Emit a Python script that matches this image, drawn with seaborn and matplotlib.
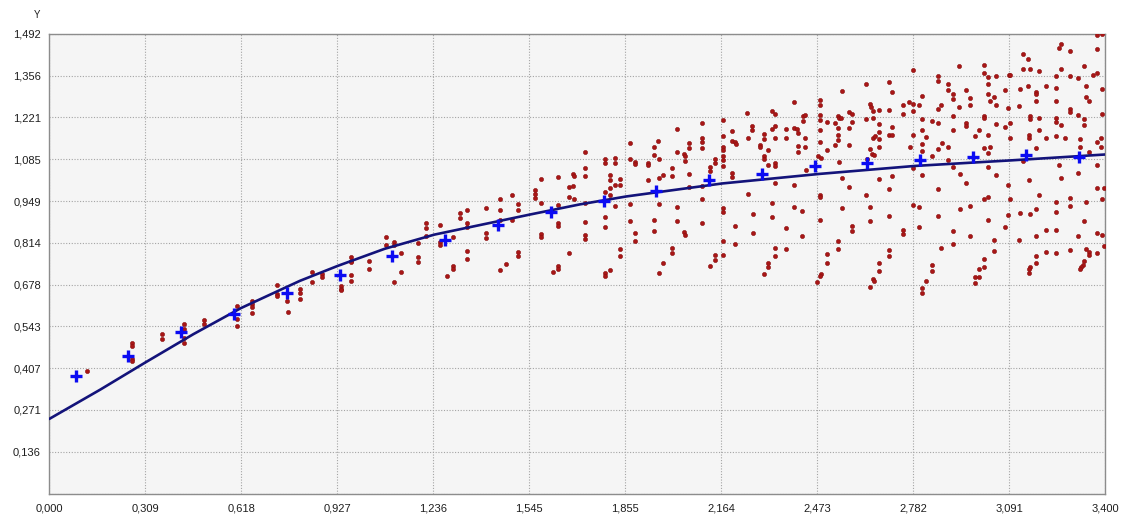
import matplotlib
matplotlib.use("Agg")
import matplotlib.pyplot as plt
import seaborn as sns
import pandas as pd
from matplotlib.ticker import FixedLocator, FixedFormatter

# ---------------- data ----------------
x_ticks = [0.0, 0.309, 0.618, 0.927, 1.236, 1.545, 1.855, 2.164, 2.473, 2.782, 3.091, 3.400]
x_tick_labels = ["0,000", "0,309", "0,618", "0,927", "1,236", "1,545", "1,855",
                 "2,164", "2,473", "2,782", "3,091", "3,400"]
y_ticks = [0.0, 0.136, 0.271, 0.407, 0.543, 0.678, 0.814, 0.949, 1.085, 1.221, 1.356, 1.492]
y_tick_labels = ["", "0,136", "0,271", "0,407", "0,543", "0,678", "0,814", "0,949",
                 "1,085", "1,221", "1,356", "1,492"]

# bin means (blue crosses)
mean_x = [0.085, 0.255, 0.425, 0.595, 0.765, 0.935, 1.105, 1.275, 1.445, 1.615,
          1.785, 1.955, 2.125, 2.295, 2.465, 2.635, 2.805, 2.975, 3.145, 3.315]
mean_y = [0.381, 0.445, 0.524, 0.581, 0.650, 0.710, 0.772, 0.824, 0.870, 0.915,
          0.948, 0.980, 1.016, 1.038, 1.063, 1.072, 1.082, 1.093, 1.100, 1.093]

# fitted curve (navy line)
curve_x = [0.000, 0.164, 0.309, 0.464, 0.618, 0.807, 0.930, 1.080, 1.240, 1.547,
           1.708, 1.859, 2.167, 2.480, 2.789, 3.098, 3.400]
curve_y = [0.242, 0.337, 0.425, 0.517, 0.602, 0.690, 0.739, 0.794, 0.840, 0.905,
           0.938, 0.964, 1.006, 1.037, 1.063, 1.081, 1.100]

# observations (red dots)
red_points = [
    (0.122, 0.399),
    (0.267, 0.487), (0.267, 0.477), (0.267, 0.435), (0.267, 0.430),
    (0.364, 0.517), (0.364, 0.500),
    (0.435, 0.549), (0.435, 0.533), (0.435, 0.503), (0.435, 0.487),
    (0.498, 0.563), (0.498, 0.549),
    (0.603, 0.609), (0.603, 0.565), (0.603, 0.544),
    (0.652, 0.625), (0.652, 0.614), (0.652, 0.604), (0.652, 0.587),
    (0.734, 0.676), (0.734, 0.647), (0.734, 0.641),
    (0.770, 0.589), (0.766, 0.625),
    (0.807, 0.663), (0.807, 0.650), (0.807, 0.631),
    (0.845, 0.718), (0.845, 0.685), (0.877, 0.712), (0.877, 0.701),
    (0.941, 0.674), (0.941, 0.665), (0.941, 0.660),
    (0.971, 0.767), (0.971, 0.756), (0.971, 0.750), (0.971, 0.709), (0.971, 0.690),
    (1.030, 0.753), (1.030, 0.729), (1.084, 0.832), (1.084, 0.805),
    (1.111, 0.815), (1.111, 0.805), (1.111, 0.687), (1.134, 0.781), (1.134, 0.720),
    (1.186, 0.813), (1.186, 0.767), (1.186, 0.750),
    (1.212, 0.878), (1.212, 0.861), (1.212, 0.837),
    (1.258, 0.872), (1.258, 0.815), (1.258, 0.805), (1.281, 0.707), (1.301, 0.739),
    (1.301, 0.729), (1.301, 0.832),
    (1.324, 0.911), (1.324, 0.895), (1.346, 0.919), (1.346, 0.878), (1.346, 0.864),
    (1.346, 0.788), (1.346, 0.761),
    (1.408, 0.926), (1.408, 0.845), (1.408, 0.830),
    (1.451, 0.957), (1.451, 0.921), (1.451, 0.886), (1.451, 0.725), (1.470, 0.745),
    (1.489, 0.970), (1.489, 0.888), (1.510, 0.940), (1.510, 0.919), (1.510, 0.783),
    (1.510, 0.770),
    (1.565, 0.984), (1.565, 0.973), (1.565, 0.959), (1.583, 1.022), (1.583, 0.944),
    (1.583, 0.843), (1.583, 0.832),
    (1.621, 0.718), (1.637, 1.027), (1.637, 0.935), (1.637, 0.878), (1.637, 0.868),
    (1.637, 0.739), (1.637, 0.729),
    # 1.65 - 2.23
    (1.687, 1.036), (1.689, 1.031), (1.674, 0.995), (1.687, 0.998),
    (1.724, 1.109), (1.724, 1.055), (1.724, 1.030),
    (1.791, 1.086), (1.791, 1.074), (1.823, 1.089), (1.823, 1.073),
    (1.805, 1.035), (1.805, 1.016), (1.821, 1.002), (1.837, 1.002), (1.837, 1.022),
    (1.869, 1.138), (1.869, 1.084), (1.885, 1.076), (1.885, 1.069),
    (1.928, 1.074), (1.928, 1.065), (1.928, 1.016),
    (1.948, 1.125), (1.948, 1.100), (1.961, 1.145), (1.963, 1.087), (1.963, 1.024),
    (1.977, 1.033),
    (2.005, 1.057), (2.005, 1.031), (2.020, 1.182), (2.020, 1.109),
    (2.044, 1.103), (2.046, 1.096), (2.046, 1.078), (2.059, 1.138), (2.060, 1.120),
    (2.059, 1.038),
    (2.103, 1.203), (2.103, 1.152), (2.103, 1.141), (2.103, 1.122), (2.103, 0.997),
    (2.129, 1.060), (2.129, 1.046), (2.143, 1.084), (2.143, 1.071),
    (2.170, 1.211), (2.170, 1.161), (2.169, 1.125), (2.170, 1.116), (2.170, 1.095),
    (2.170, 1.081), (2.170, 1.063),
    (2.198, 1.177), (2.198, 1.144), (2.208, 1.139), (2.213, 1.134), (2.198, 1.039),
    (2.198, 1.026),
    (1.674, 0.962), (1.689, 0.957), (1.791, 0.978), (1.805, 0.991), (1.805, 0.967),
    (1.823, 0.932), (1.724, 0.943), (1.724, 0.882), (1.724, 0.839), (1.724, 0.826),
    (1.791, 0.896), (1.791, 0.866), (1.674, 0.781),
    (1.791, 0.714), (1.791, 0.706), (1.805, 0.726), (1.837, 0.793), (1.837, 0.771),
    (1.869, 0.940), (1.869, 0.885), (1.885, 0.844), (1.885, 0.818),
    (1.948, 0.889), (1.948, 0.852), (1.963, 0.940), (1.963, 0.717), (1.977, 0.747),
    (2.005, 0.796), (2.005, 0.782), (2.020, 0.929), (2.020, 0.885),
    (2.044, 0.847), (2.046, 0.840), (2.059, 0.994), (2.103, 0.957), (2.103, 0.879),
    (2.129, 0.739), (2.143, 0.775), (2.143, 0.757),
    (2.169, 0.926), (2.169, 0.913), (2.169, 0.818), (2.169, 0.775),
    (2.208, 0.867), (2.208, 0.808),
    # 2.23 - 2.82 upper
    (2.248, 1.236), (2.264, 1.192), (2.264, 1.181), (2.250, 1.155),
    (2.288, 1.130), (2.288, 1.124), (2.301, 1.166), (2.301, 1.149), (2.315, 1.115),
    (2.301, 1.095), (2.301, 1.085), (2.315, 1.065), (2.337, 1.074), (2.337, 1.063),
    (2.326, 1.241), (2.337, 1.233), (2.326, 1.182), (2.337, 1.192), (2.337, 1.155),
    (2.374, 1.182), (2.374, 1.155), (2.399, 1.271), (2.399, 1.187), (2.409, 1.182),
    (2.412, 1.171), (2.412, 1.127), (2.412, 1.108), (2.426, 1.226), (2.426, 1.210),
    (2.435, 1.228), (2.435, 1.155), (2.435, 1.124),
    (2.482, 1.276), (2.482, 1.260), (2.482, 1.228), (2.482, 1.212), (2.482, 1.180),
    (2.482, 1.140), (2.477, 1.095), (2.485, 1.089),
    (2.505, 1.207), (2.505, 1.116),
    (2.532, 1.203), (2.541, 1.225), (2.543, 1.219), (2.551, 1.219), (2.541, 1.185),
    (2.541, 1.163), (2.541, 1.146), (2.532, 1.130),
    (2.553, 1.307), (2.575, 1.237), (2.586, 1.232), (2.575, 1.187), (2.586, 1.206),
    (2.575, 1.132), (2.543, 1.076),
    (2.629, 1.330), (2.629, 1.214),
    (2.642, 1.265), (2.646, 1.253), (2.653, 1.242), (2.653, 1.217), (2.653, 1.155),
    (2.659, 1.160), (2.671, 1.246),
    (2.673, 1.198), (2.673, 1.174), (2.673, 1.149), (2.673, 1.123),
    (2.642, 1.117), (2.648, 1.103), (2.655, 1.098), (2.632, 1.085),
    (2.704, 1.336), (2.715, 1.304), (2.704, 1.246), (2.715, 1.188), (2.705, 1.162),
    (2.715, 1.162),
    (2.750, 1.261), (2.750, 1.232), (2.770, 1.269), (2.781, 1.264), (2.781, 1.242),
    (2.800, 1.261), (2.810, 1.290),
    (2.781, 1.374), (2.781, 1.162), (2.771, 1.123), (2.810, 1.214), (2.810, 1.133),
    (2.810, 1.112),
    # 2.23 - 2.82 lower
    (2.436, 1.049), (2.782, 1.055),
    (2.250, 0.973), (2.337, 1.006), (2.399, 1.000),
    (2.326, 0.943), (2.265, 0.908), (2.326, 0.897), (2.265, 0.845), (2.399, 0.930),
    (2.425, 0.918), (2.374, 0.860), (2.425, 0.835),
    (2.337, 0.797), (2.337, 0.772), (2.374, 0.794), (2.315, 0.747), (2.315, 0.736),
    (2.301, 0.712),
    (2.482, 0.967), (2.482, 0.962), (2.482, 0.888), (2.553, 1.024), (2.575, 0.995),
    (2.553, 0.926),
    (2.541, 0.819), (2.541, 0.794), (2.505, 0.776), (2.505, 0.747), (2.484, 0.712),
    (2.482, 0.707), (2.473, 0.685),
    (2.586, 0.868), (2.586, 0.851),
    (2.629, 0.970), (2.673, 1.021), (2.642, 0.930), (2.642, 0.885), (2.704, 0.988),
    (2.715, 1.031), (2.705, 0.900),
    (2.704, 0.789), (2.704, 0.772), (2.673, 0.747), (2.673, 0.723), (2.653, 0.696),
    (2.655, 0.691), (2.642, 0.669),
    (2.748, 0.855), (2.748, 0.841),
    (2.782, 0.936), (2.800, 0.930), (2.800, 0.864),
    # 2.80 - 3.40 upper
    (2.812, 1.181), (2.822, 1.158), (2.843, 1.094), (2.862, 1.117), (2.875, 1.136),
    (2.844, 1.210), (2.862, 1.247), (2.862, 1.203), (2.873, 1.261),
    (2.862, 1.355), (2.862, 1.340), (2.894, 1.328), (2.894, 1.308), (2.912, 1.297),
    (2.912, 1.279), (2.930, 1.253), (2.912, 1.225), (2.912, 1.181), (2.894, 1.123),
    (2.930, 1.386), (2.953, 1.308), (2.964, 1.283), (2.964, 1.261), (2.953, 1.203),
    (2.953, 1.192), (2.982, 1.160), (2.993, 1.181), (3.010, 1.122), (3.023, 1.105),
    (3.031, 1.125),
    (3.010, 1.389), (3.010, 1.366), (3.023, 1.351), (3.023, 1.328), (3.023, 1.297),
    (3.041, 1.286), (3.031, 1.275), (3.048, 1.261), (3.010, 1.225), (3.010, 1.220),
    (3.023, 1.163), (3.048, 1.355),
    (3.048, 1.199), (3.077, 1.308), (3.077, 1.188), (3.087, 1.250), (3.091, 1.359),
    (3.095, 1.359), (3.095, 1.203), (3.095, 1.152),
    (3.125, 1.312), (3.136, 1.426), (3.136, 1.377), (3.152, 1.411), (3.159, 1.377),
    (3.123, 1.258), (3.152, 1.323), (3.179, 1.304), (3.179, 1.297), (3.179, 1.275),
    (3.189, 1.370), (3.159, 1.225), (3.159, 1.215), (3.189, 1.217), (3.189, 1.181),
    (3.154, 1.163), (3.154, 1.152), (3.179, 1.120),
    (3.209, 1.323), (3.209, 1.155), (3.243, 1.355), (3.243, 1.317), (3.243, 1.274),
    (3.243, 1.217), (3.243, 1.206), (3.243, 1.160),
    (3.252, 1.446), (3.259, 1.459), (3.259, 1.377), (3.288, 1.437), (3.288, 1.355),
    (3.288, 1.247), (3.288, 1.239), (3.259, 1.196), (3.272, 1.152),
    (3.314, 1.348), (3.314, 1.228), (3.331, 1.386), (3.331, 1.215), (3.331, 1.196),
    (3.340, 1.323), (3.340, 1.288), (3.350, 1.272),
    (3.361, 1.359), (3.375, 1.443), (3.375, 1.366), (3.375, 1.488), (3.389, 1.490),
    (3.391, 1.312), (3.389, 1.233), (3.388, 1.152), (3.388, 1.123), (3.375, 1.141),
    (3.321, 1.149), (3.321, 1.125), (3.350, 1.109),
    # 2.80 - 3.40 lower
    (2.812, 1.033), (2.844, 0.741), (2.844, 0.721), (2.822, 0.688), (2.812, 0.666),
    (2.812, 0.652),
    (2.894, 1.082), (2.912, 1.060), (2.932, 1.036), (2.953, 1.009), (2.862, 0.987),
    (2.862, 0.900),
    (3.023, 1.060), (3.048, 1.035), (3.087, 1.002), (3.010, 0.954), (3.023, 0.962),
    (2.932, 0.924), (2.964, 0.932), (3.095, 0.957),
    (3.087, 0.905), (3.023, 0.886), (3.077, 0.866), (2.912, 0.853), (2.964, 0.837),
    (3.041, 0.823), (2.912, 0.809), (2.873, 0.796),
    (3.041, 0.786), (3.010, 0.761), (3.010, 0.736), (2.993, 0.728), (2.993, 0.703),
    (2.982, 0.703), (2.982, 0.682),
    (3.136, 1.078), (3.154, 1.016), (3.189, 0.970), (3.125, 0.911), (3.159, 0.908),
    (3.179, 0.922), (3.123, 0.821), (3.179, 0.837), (3.209, 0.855), (3.243, 0.855),
    (3.243, 0.946), (3.243, 0.915), (3.259, 1.024), (3.252, 1.067), (3.288, 0.959),
    (3.288, 0.932), (3.314, 1.041), (3.375, 1.065), (3.375, 0.991), (3.398, 0.991),
    (3.389, 0.954), (3.340, 0.946),
    (3.331, 0.885), (3.314, 0.834), (3.375, 0.845), (3.389, 0.840), (3.398, 0.804),
    (3.375, 0.779), (3.288, 0.790), (3.243, 0.779), (3.209, 0.783), (3.179, 0.772),
    (3.179, 0.747), (3.159, 0.736), (3.154, 0.728), (3.154, 0.717), (3.340, 0.794),
    (3.350, 0.783), (3.350, 0.774),
    (3.331, 0.753), (3.329, 0.741), (3.324, 0.734), (3.321, 0.728),
]

# ---------------- build tables ----------------
df_red = pd.DataFrame(red_points, columns=["x", "y"])
df_curve = pd.DataFrame({"x": curve_x, "y": curve_y})
df_mean = pd.DataFrame({"x": mean_x, "y": mean_y})

# ---------------- drawing ----------------
sns.set_style("white")
plt.rcParams["font.family"] = ["Liberation Sans", "DejaVu Sans"]

W, H = 1136, 529
fig = plt.figure(figsize=(W / 100, H / 100), dpi=100)
fig.patch.set_facecolor("white")
left, right, top, bottom = 49.3, 1105.0, 33.7, 493.5
ax = fig.add_axes([left / W, 1 - bottom / H, (right - left) / W, (bottom - top) / H])
ax.set_facecolor("#F5F5F5")

sns.scatterplot(data=df_red, x="x", y="y", ax=ax, color="#A81616", s=9,
                edgecolor="#8A0E0E", linewidth=0.4, zorder=3, legend=False)
sns.lineplot(data=df_curve, x="x", y="y", ax=ax, color="#13137A", linewidth=1.9,
             sort=False, estimator=None, zorder=4, legend=False)
sns.scatterplot(data=df_mean, x="x", y="y", ax=ax, marker="+", s=70,
                linewidth=2.4, color="#0B0BF2", zorder=5, legend=False)

ax.set_xlim(0, 3.4)
ax.set_ylim(0, 1.492)
ax.xaxis.set_major_locator(FixedLocator(x_ticks))
ax.xaxis.set_major_formatter(FixedFormatter(x_tick_labels))
ax.yaxis.set_major_locator(FixedLocator(y_ticks))
ax.yaxis.set_major_formatter(FixedFormatter(y_tick_labels))
ax.set_xlabel("")
ax.set_ylabel("")

ax.set_axisbelow(True)
ax.grid(True, which="major", color="#A4A4A4", linestyle=(0, (1, 1.5)), linewidth=0.8)
for sp in ax.spines.values():
    sp.set_visible(True)
    sp.set_color("#8C8C8C")
    sp.set_linewidth(1.0)

ax.tick_params(axis="both", length=0, labelsize=8, colors="#1E1E1E")
ax.tick_params(axis="x", pad=7)
ax.tick_params(axis="y", pad=6)

fig.text(37 / W, 1 - 15 / H, "Y", fontsize=7, color="#1E1E1E", ha="center", va="center")

fig.savefig("out.png", dpi=100, facecolor="white")
